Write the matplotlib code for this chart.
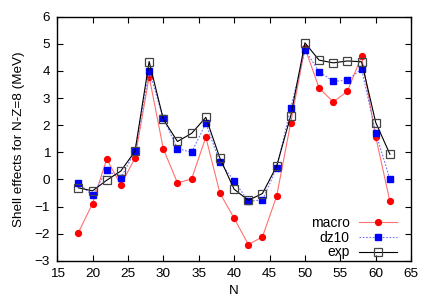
import numpy as np
import matplotlib
matplotlib.use('Agg')
import matplotlib.pyplot as plt

plt.rcParams['font.family'] = ['Liberation Sans', 'DejaVu Sans']
plt.rcParams['font.size'] = 9.7

N = [18, 20, 22, 24, 26, 28, 30, 32, 34, 36, 38, 40, 42, 44, 46, 48, 50, 52, 54, 56, 58, 60, 62]

macro = [-1.96, -0.89, 0.75, -0.20, 0.79, 3.79, 1.13, -0.13, 0.02, 1.56, -0.51, -1.43,
         -2.40, -2.12, -0.62, 2.10, 4.85, 3.37, 2.86, 3.25, 4.55, 1.57, -0.81]
dz10 = [-0.13, -0.59, 0.34, 0.06, 1.04, 4.01, 2.25, 1.14, 1.00, 2.07, 0.63, -0.05,
        -0.80, -0.76, 0.42, 2.64, 4.78, 3.97, 3.62, 3.66, 4.08, 1.71, 0.01]
exp = [-0.31, -0.42, -0.03, 0.31, 1.04, 4.35, 2.22, 1.40, 1.70, 2.29, 0.78, -0.36,
       -0.77, -0.52, 0.49, 2.35, 5.04, 4.40, 4.30, 4.37, 4.34, 2.10, 0.93]

fig = plt.figure(figsize=(4.36, 3.05), dpi=100)
ax = fig.add_axes([0.131, 0.145, 0.812, 0.80])

ax.plot(N, macro, color='#ff7070', lw=0.8, marker='o', ms=4.2,
        mfc='red', mec='red', label='macro')
ax.plot(N, dz10, color='#7070ff', lw=0.8, ls=(0, (1.5, 1.5)), marker='s', ms=3.8,
        mfc='blue', mec='blue', label='dz10')
ax.plot(N, exp, color='black', lw=0.8, marker='s', ms=5.8,
        mfc='none', mec='#444444', mew=0.9, label='exp')

ax.set_xlim(15, 65)
ax.set_ylim(-3, 6)
ax.set_xticks(np.arange(15, 66, 5))
ax.set_yticks(np.arange(-3, 7, 1))
ax.tick_params(direction='in', top=True, right=True, length=4, width=0.8, pad=5)
for s in ax.spines.values():
    s.set_linewidth(1.0)

ax.set_xlabel('N', labelpad=4)
ax.set_ylabel('Shell effects for N-Z=8 (MeV)', labelpad=7)

ax.legend(loc='lower right', frameon=False, markerfirst=False, handlelength=2.75,
          handletextpad=0.7, labelspacing=0.05, borderaxespad=0.0, fontsize=10,
          bbox_to_anchor=(0.977, -0.017))

fig.savefig('out.png', dpi=100)
